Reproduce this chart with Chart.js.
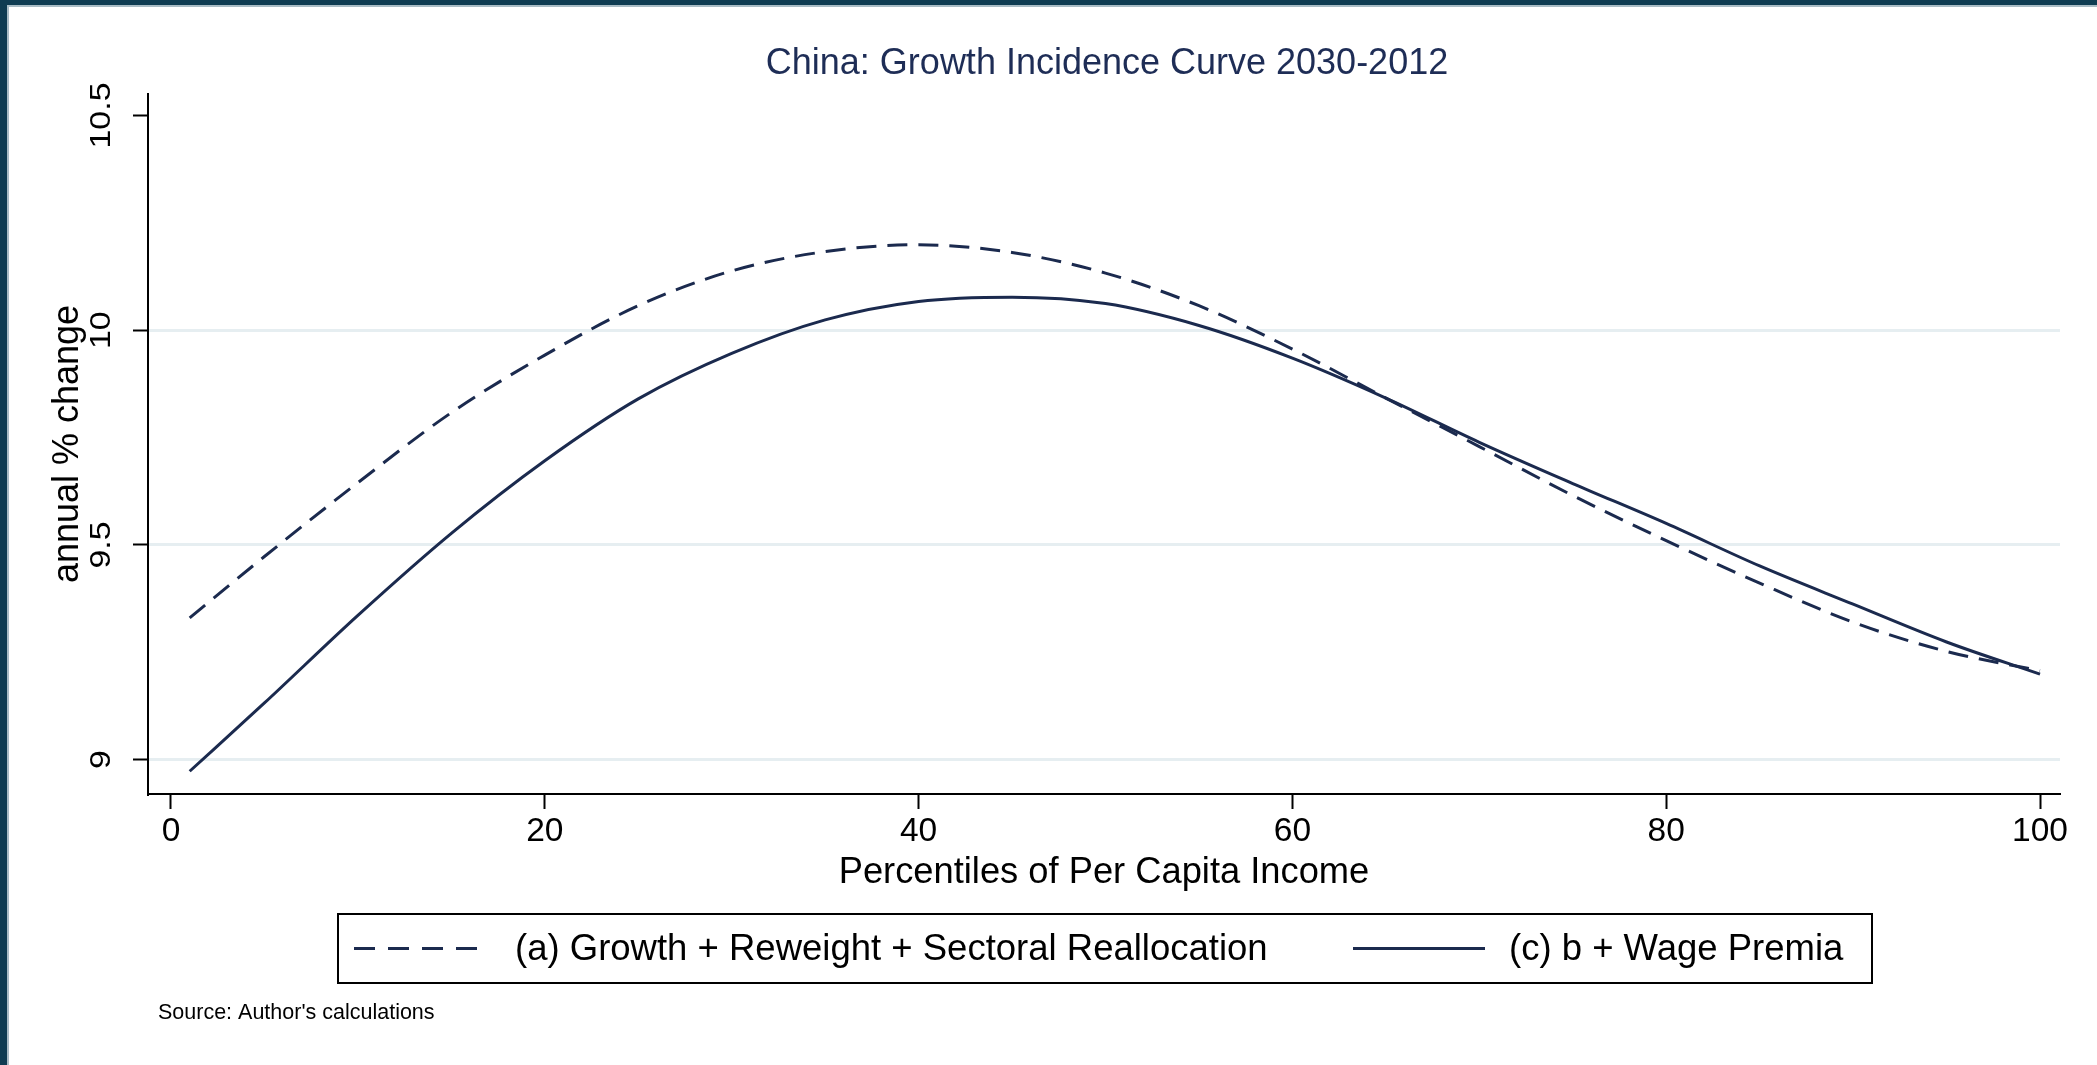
<!DOCTYPE html>
<html>
<head>
<meta charset="utf-8">
<title>China: Growth Incidence Curve 2030-2012</title>
<script src="https://cdn.jsdelivr.net/npm/chart.js@4.4.1/dist/chart.umd.min.js"></script>
<style>
  html, body { margin: 0; padding: 0; background: #ffffff; overflow: hidden; }
  canvas { display: block; }
</style>
</head>
<body>
<canvas id="gic" width="2097" height="1065"></canvas>
<script>
// Percentile points along the income distribution
const percentiles = [1, 5, 10, 15, 20, 25, 30, 35, 40, 45, 50, 55, 60, 65, 70, 75, 80, 85, 90, 95, 100];

// (a) Growth + Reweight + Sectoral Reallocation — annual % change
const seriesA = [9.330, 9.473, 9.645, 9.808, 9.942, 10.057, 10.138, 10.183, 10.199, 10.181, 10.133,
                 10.057, 9.956, 9.842, 9.729, 9.615, 9.510, 9.411, 9.320, 9.252, 9.207];

// (c) b + Wage Premia — annual % change
const seriesC = [8.973, 9.132, 9.336, 9.527, 9.696, 9.840, 9.946, 10.024, 10.067, 10.077, 10.062,
                 10.011, 9.935, 9.842, 9.739, 9.643, 9.550, 9.451, 9.362, 9.274, 9.199];

const seriesLabels = ['(a) Growth + Reweight + Sectoral Reallocation', '(c) b + Wage Premia'];
const xTickValues = [0, 20, 40, 60, 80, 100];
const yTickValues = [9, 9.5, 10, 10.5];
const yTickLabels = ['9', '9.5', '10', '10.5'];

const chartTitle = 'China: Growth Incidence Curve 2030-2012';
const xTitle = 'Percentiles of Per Capita Income';
const yTitle = 'annual % change';
const sourceNote = "Source: Author's calculations";

const FONT = '"Liberation Sans", Arial, Helvetica, sans-serif';
const NAVY = '#1b2a4e';
const TITLE_NAVY = '#1e2d56';
const GRID = '#e6eef1';

const toPoints = (ys) => ys.map((y, i) => ({ x: percentiles[i], y }));

// Frame, title, rotated y tick labels, boxed legend and source note
const decorations = {
  id: 'decorations',
  beforeDraw(chart) {
    const { ctx, width, height } = chart;
    ctx.save();
    ctx.fillStyle = '#ffffff';
    ctx.fillRect(0, 0, width, height);
    ctx.restore();
  },
  afterDraw(chart) {
    const { ctx, width } = chart;
    const yScale = chart.scales.y;
    ctx.save();

    // outer frame: dark band along top and left edges
    ctx.fillStyle = '#0f3c52';
    ctx.fillRect(0, 0, width, 5);
    ctx.fillRect(0, 0, 7, chart.height);
    ctx.fillStyle = '#a9bcc5';
    ctx.fillRect(7, 5, width - 7, 2);
    ctx.fillRect(7, 5, 2, chart.height - 5);

    // title
    ctx.fillStyle = TITLE_NAVY;
    ctx.font = '36px ' + FONT;
    ctx.textAlign = 'center';
    ctx.textBaseline = 'middle';
    ctx.fillText(chartTitle, 1107, 64);

    // y tick labels, rotated to read upward (slightly condensed across the axis)
    ctx.fillStyle = '#000000';
    ctx.font = '34px ' + FONT;
    yTickValues.forEach((v, i) => {
      const py = yScale.getPixelForValue(v);
      ctx.save();
      ctx.translate(102, py);
      ctx.rotate(-Math.PI / 2);
      ctx.scale(1, 0.85);
      ctx.textAlign = 'center';
      ctx.textBaseline = 'middle';
      ctx.fillText(yTickLabels[i], 0, 0);
      ctx.restore();
    });

    // legend box
    const box = { x: 338, y: 914, w: 1534, h: 69 };
    ctx.strokeStyle = '#000000';
    ctx.lineWidth = 2;
    ctx.strokeRect(box.x, box.y, box.w, box.h);
    const cy = box.y + box.h / 2;
    const items = [
      { x0: 354, x1: 488, tx: 515, dash: [21, 13], label: seriesLabels[0] },
      { x0: 1353, x1: 1485, tx: 1509, dash: [], label: seriesLabels[1] }
    ];
    ctx.font = '36.5px ' + FONT;
    ctx.textAlign = 'left';
    ctx.textBaseline = 'middle';
    items.forEach((it) => {
      ctx.strokeStyle = NAVY;
      ctx.lineWidth = 3;
      ctx.setLineDash(it.dash);
      ctx.beginPath();
      ctx.moveTo(it.x0, cy);
      ctx.lineTo(it.x1, cy);
      ctx.stroke();
      ctx.setLineDash([]);
      ctx.fillStyle = '#000000';
      ctx.fillText(it.label, it.tx, cy + 1);
    });

    // source note
    ctx.font = '21.5px ' + FONT;
    ctx.fillStyle = '#000000';
    ctx.fillText(sourceNote, 158, 1013);

    ctx.restore();
  }
};

new Chart(document.getElementById('gic'), {
  type: 'line',
  data: {
    datasets: [
      {
        label: seriesLabels[0],
        data: toPoints(seriesA),
        borderColor: NAVY,
        borderWidth: 3,
        borderDash: [20, 11],
        pointRadius: 0,
        cubicInterpolationMode: 'monotone',
        fill: false
      },
      {
        label: seriesLabels[1],
        data: toPoints(seriesC),
        borderColor: NAVY,
        borderWidth: 3,
        pointRadius: 0,
        cubicInterpolationMode: 'monotone',
        fill: false
      }
    ]
  },
  options: {
    responsive: false,
    animation: false,
    devicePixelRatio: 1,
    layout: { autoPadding: false, padding: { left: 0, top: 94, right: 37, bottom: 151 } },
    plugins: {
      legend: { display: false },
      title: { display: false },
      tooltip: { enabled: false }
    },
    scales: {
      x: {
        type: 'linear',
        min: -1.23,
        max: 101.07,
        afterFit(scale) { scale.height = 120; },
        afterBuildTicks(scale) { scale.ticks = xTickValues.map((v) => ({ value: v })); },
        border: { color: '#000000', width: 2 },
        grid: { drawOnChartArea: false, tickColor: '#000000', tickLength: 15, tickWidth: 2 },
        ticks: {
          color: '#000000',
          font: { family: FONT, size: 33.5 },
          padding: 3,
          maxRotation: 0,
          autoSkip: false
        },
        title: {
          display: true,
          text: xTitle,
          color: '#000000',
          font: { family: FONT, size: 36.3 },
          padding: { top: 0, bottom: 19 }
        }
      },
      y: {
        type: 'linear',
        min: 8.92,
        max: 10.55,
        afterFit(scale) { scale.width = 148; },
        afterBuildTicks(scale) { scale.ticks = yTickValues.map((v) => ({ value: v })); },
        border: { color: '#000000', width: 2 },
        grid: {
          color: (ctx) => (ctx.tick && ctx.tick.value === 10.5 ? 'rgba(0,0,0,0)' : GRID),
          lineWidth: 3,
          tickColor: '#000000',
          tickLength: 15,
          tickWidth: 2
        },
        ticks: { display: false },
        title: {
          display: true,
          text: yTitle,
          color: '#000000',
          font: { family: FONT, size: 36 },
          padding: { top: 46, bottom: 0 }
        }
      }
    }
  },
  plugins: [decorations]
});
</script>
</body>
</html>
